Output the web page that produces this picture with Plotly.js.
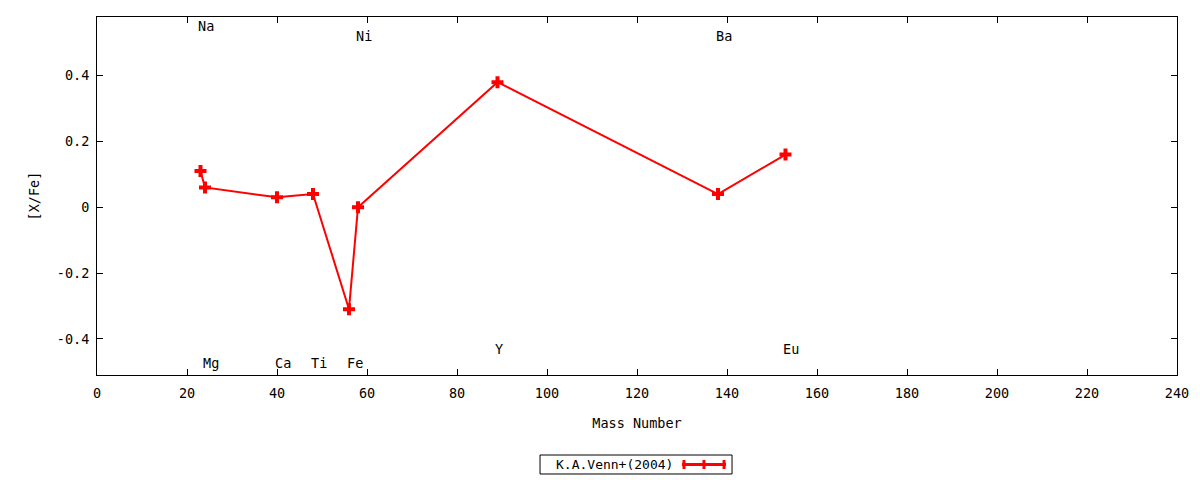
<!DOCTYPE html>
<html lang="en">
<head>
    <meta charset="UTF-8">
    <title>[X/Fe] vs Mass Number</title>
    <script src="https://cdn.plot.ly/plotly-3.0.1.min.js"></script>
    <style>
        * { margin: 0; padding: 0; box-sizing: border-box; }
        body { background: #ffffff; }
        #plot { width: 1200px; height: 480px; }
    </style>
</head>
<body>
    <div id="plot"></div>

    <script>
        // K.A.Venn+(2004) abundances
        const elements = ['Na', 'Mg', 'Ca', 'Ti', 'Fe', 'Ni', 'Y', 'Ba', 'Eu'];
        const massNumbers = [23, 24, 40, 48, 56, 58, 89, 138, 153];
        const xFe = [0.11, 0.06, 0.03, 0.04, -0.31, 0.00, 0.38, 0.04, 0.16];
        // height at which each element name is written
        const labelLevels = [0.55, -0.475, -0.475, -0.475, -0.475, 0.52, -0.43, 0.52, -0.43];

        const xTicks = [0, 20, 40, 60, 80, 100, 120, 140, 160, 180, 200, 220, 240];
        const yTicks = [-0.4, -0.2, 0, 0.2, 0.4];
        const yTickText = ['-0.4', '-0.2', '0', '0.2', '0.4'];
        const seriesName = 'K.A.Venn+(2004)';

        const font = 'DejaVu Sans Mono, monospace';
        const fontSize = 13.5;
        const red = '#ff0000';

        const trace = {
            x: massNumbers,
            y: xFe,
            type: 'scatter',
            mode: 'lines+markers',
            name: seriesName,
            line: { color: red, width: 2 },
            marker: { color: red, symbol: 'cross', size: 10 },
            showlegend: false,
            hoverinfo: 'skip'
        };

        const labels = elements.map((el, i) => ({
            x: massNumbers[i] - 1,
            y: labelLevels[i],
            xref: 'x',
            yref: 'y',
            text: el,
            showarrow: false,
            xanchor: 'left',
            yanchor: 'middle',
            font: { family: font, size: fontSize, color: '#000' }
        }));

        // gnuplot-style key: boxed text with the line sample to its right
        labels.push({
            x: 0.4231, y: -0.25, xref: 'paper', yref: 'paper',
            text: seriesName, showarrow: false,
            xanchor: 'left', yanchor: 'middle',
            font: { family: font, size: 13, color: '#000' }
        });

        const shapes = [
            { type: 'rect', xref: 'paper', yref: 'paper',
              x0: 0.4102, x1: 0.5880, y0: -0.2765, y1: -0.2235,
              line: { color: '#000', width: 1 }, fillcolor: 'rgba(0,0,0,0)' },
            { type: 'line', xref: 'paper', yref: 'paper',
              x0: 0.5417, x1: 0.5824, y0: -0.25, y1: -0.25,
              line: { color: red, width: 3 } }
        ];
        [0.5435, 0.5620, 0.5806].forEach(px => {
            shapes.push({ type: 'line', xref: 'paper', yref: 'paper',
                x0: px, x1: px, y0: -0.2625, y1: -0.2375,
                line: { color: red, width: 3 } });
        });

        const axisCommon = {
            showline: true,
            linecolor: '#000',
            linewidth: 1,
            mirror: 'ticks',
            ticks: 'inside',
            ticklen: 6,
            tickcolor: '#000',
            showgrid: false,
            zeroline: false,
            tickfont: { family: font, size: fontSize, color: '#000' }
        };

        const layout = {
            width: 1200,
            height: 480,
            margin: { l: 97, r: 23, t: 17, b: 105 },
            paper_bgcolor: '#ffffff',
            plot_bgcolor: '#ffffff',
            showlegend: false,
            xaxis: Object.assign({}, axisCommon, {
                range: [0, 240],
                tickvals: xTicks,
                ticktext: xTicks.map(String),
                ticklabelstandoff: 6,
                title: { text: 'Mass Number', font: { family: font, size: fontSize, color: '#000' }, standoff: 18 }
            }),
            yaxis: Object.assign({}, axisCommon, {
                range: [-0.51, 0.578],
                tickvals: yTicks,
                ticktext: yTickText,
                ticklabelstandoff: 4,
                title: { text: '[X/Fe]', font: { family: font, size: fontSize, color: '#000' }, standoff: 14 }
            }),
            annotations: labels,
            shapes: shapes
        };

        Plotly.newPlot('plot', [trace], layout, { displayModeBar: false, staticPlot: true });
    </script>
</body>
</html>
